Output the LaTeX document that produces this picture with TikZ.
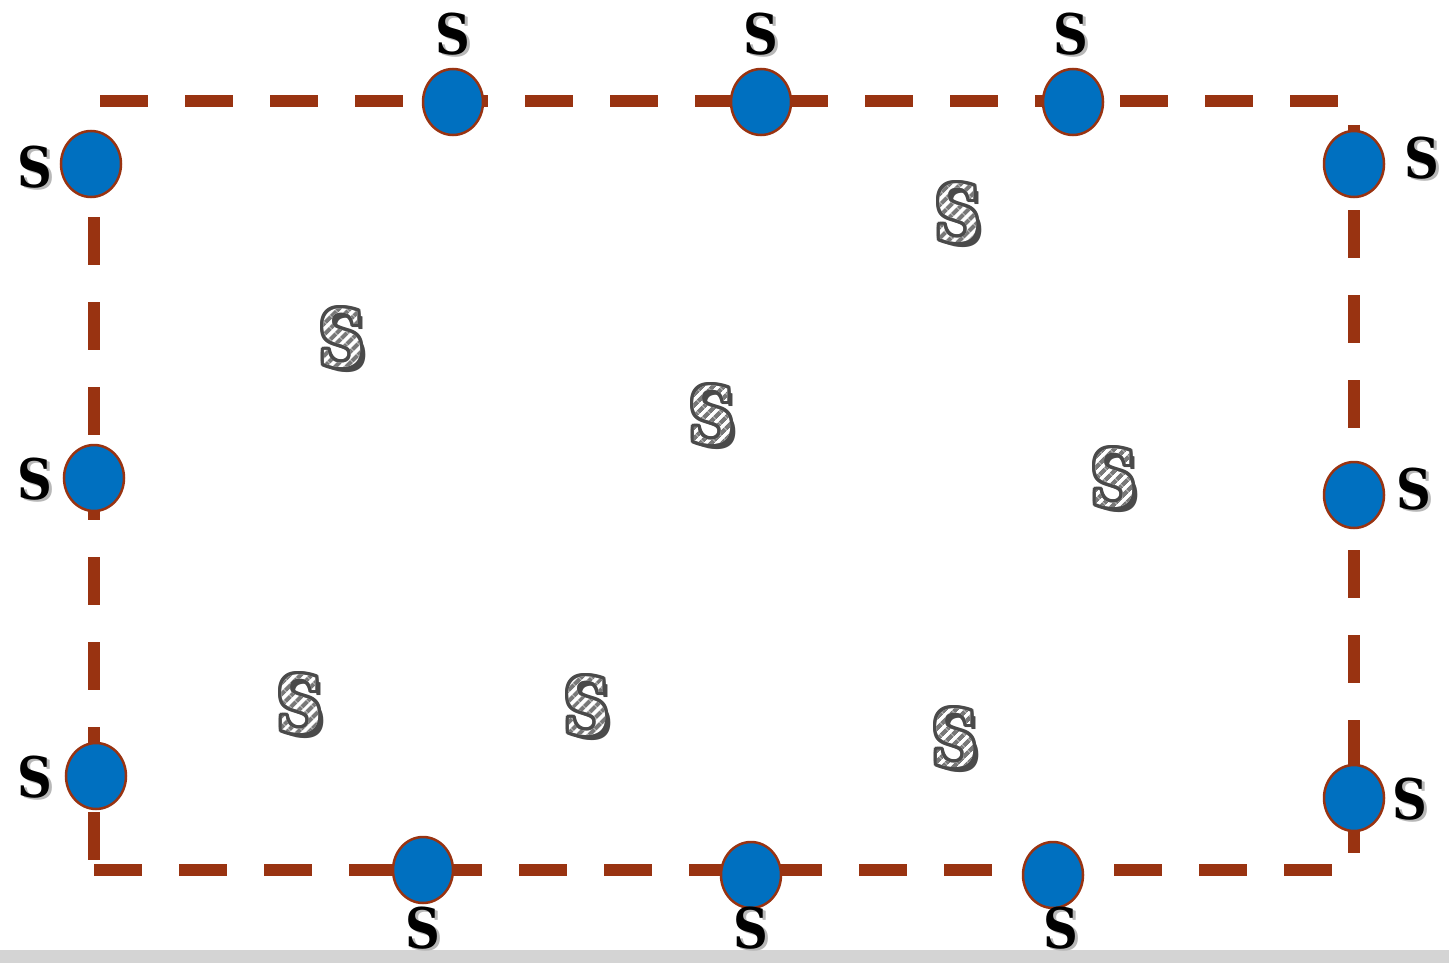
\documentclass[tikz,border=0pt]{standalone}
\usepackage{fontspec}
\usetikzlibrary{shapes.geometric,fadings,patterns.meta}

\newfontfamily\labelfont{DejaVu Serif}

\definecolor{borderbrown}{RGB}{153,51,17}
\definecolor{dotblue}{RGB}{0,112,192}
\definecolor{hatchdark}{RGB}{74,74,74}
\definecolor{stripegray}{RGB}{120,120,120}
\definecolor{floorgray}{RGB}{212,212,212}

% glyph used as a mask for the striped letters
\begin{tikzfadingfrompicture}[name=hatchmask]
  \node[inner sep=0pt, text=transparent!0,
        font=\labelfont\bfseries\fontsize{78}{78}\selectfont]
        {\scalebox{0.8}[1]{S}};
\end{tikzfadingfrompicture}

\tikzdeclarepattern{
  name=sstripes,
  type=uncolored,
  bounding box={(0pt,0pt) and (8pt,8pt)},
  tile size={(8pt,8pt)},
  tile transformation={rotate=45},
  code={\pgfpathrectangle{\pgfpoint{-0.5pt}{0pt}}{\pgfpoint{9pt}{4.5pt}}\pgfusepath{fill}}
}

\tikzset{
  border/.style={draw=borderbrown, line width=12pt, line cap=butt,
                 dash pattern=on 48pt off 37pt},
  dot/.style={ellipse, draw=borderbrown, fill=dotblue, line width=2.5pt,
              minimum width=60pt, minimum height=66pt, inner sep=0pt},
  lbl/.style={inner sep=0pt, text=black,
              font=\labelfont\bfseries\fontsize{56}{56}\selectfont},
  lblshadow/.style={lbl, text=black!28},
  hatchedge/.style={inner sep=0pt, text=hatchdark,
              font=\labelfont\bfseries\fontsize{78}{78}\selectfont},
}

% black letter with a soft shadow
\newcommand\sLabel[2]{%
  \node[lblshadow, shift={(2.5,2.5)}] at (#2) {\scalebox{0.86}[1]{S}};
  \node[lbl] (#1) at (#2) {\scalebox{0.86}[1]{S}};
}

% outlined letter with diagonal stripes
\newcommand\sHatched[2]{%
  \node[hatchedge, shift={(5,5)}] (#1) at (#2) {\scalebox{0.8}[1]{S}};
  \foreach \ang in {0,30,...,330}
    \node[hatchedge, shift={({3.3*cos(\ang)},{3.3*sin(\ang)})}] at (#2) {\scalebox{0.8}[1]{S}};
  \path[fill=white, path fading=hatchmask, fit fading=false,
        fading transform={shift={(#2)}}]
    (#2) ++(-45,-50) rectangle ++(90,100);
  \path[pattern=sstripes, pattern color=stripegray, path fading=hatchmask,
        fit fading=false, fading transform={shift={(#2)}}]
    (#2) ++(-45,-50) rectangle ++(90,100);
}

\begin{document}
\begin{tikzpicture}[x=1pt, y=-1pt]
  \useasboundingbox (0,0) rectangle (1449,963);
  \fill[white] (0,0) rectangle (1449,963);
  \fill[floorgray] (0,950) rectangle (1449,963);

  % corners of the dashed boundary
  \coordinate (topL) at (100,101);
  \coordinate (topR) at (1341,101);
  \coordinate (leftT) at (94,132);
  \coordinate (leftB) at (94,861);
  \coordinate (botL) at (94,870);
  \coordinate (botR) at (1334,870);
  \coordinate (rightT) at (1354,125);
  \coordinate (rightB) at (1354,854);

  \draw[border] (topL) -- (topR);
  \draw[border] (leftT) -- (leftB);
  \draw[border] (botL) -- (botR);
  \draw[border] (rightT) -- (rightB);

  % boundary points
  \node[dot] (t1) at (453,102) {};
  \node[dot] (t2) at (761,102) {};
  \node[dot] (t3) at (1073,102) {};
  \node[dot] (l1) at (91,164) {};
  \node[dot] (l2) at (94,478) {};
  \node[dot] (l3) at (96,776) {};
  \node[dot] (r1) at (1354,164) {};
  \node[dot] (r2) at (1354,495) {};
  \node[dot] (r3) at (1354,798) {};
  \node[dot] (b1) at (423,870) {};
  \node[dot] (b2) at (751,875) {};
  \node[dot] (b3) at (1053,875) {};

  % labels of the boundary points
  \sLabel{st1}{453,34}
  \sLabel{st2}{761,34}
  \sLabel{st3}{1071,34}
  \sLabel{sl1}{35,167}
  \sLabel{sl2}{35,479}
  \sLabel{sl3}{35,777}
  \sLabel{sr1}{1422,158}
  \sLabel{sr2}{1414,489}
  \sLabel{sr3}{1410,799}
  \sLabel{sb1}{423,928}
  \sLabel{sb2}{751,928}
  \sLabel{sb3}{1061,928}

  % interior points
  \sHatched{h1}{958,213}
  \sHatched{h2}{342,338}
  \sHatched{h3}{712,415}
  \sHatched{h4}{1114,478}
  \sHatched{h5}{300,704}
  \sHatched{h6}{587,706}
  \sHatched{h7}{955,738}
\end{tikzpicture}
\end{document}
